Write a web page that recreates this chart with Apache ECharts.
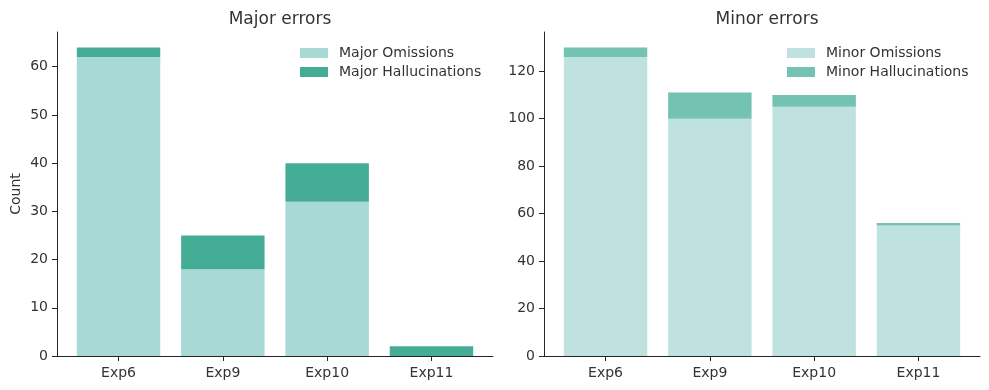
<!DOCTYPE html>
<html><head><meta charset="utf-8">
<script src="https://cdn.jsdelivr.net/npm/echarts@6/dist/echarts.min.js"></script>
<style>html,body{margin:0;padding:0;background:#fff}#c{width:989px;height:390px}</style>
</head><body><div id="c"></div>
<script>
const categories = ['Exp6', 'Exp9', 'Exp10', 'Exp11'];
const majorOmissions = [62, 18, 32, 0];
const majorHallucinations = [2, 7, 8, 2];
const minorOmissions = [126, 100, 105, 55];
const minorHallucinations = [4, 11, 5, 1];
const majorTicks = [0, 10, 20, 30, 40, 50, 60];
const minorTicks = [0, 20, 40, 60, 80, 100, 120];

const txt = '#333333';
const lineC = '#262626';
const font = 'DejaVu Sans';
const FS = 14;
const idx = [0, 1, 2, 3];
const xMin = -0.59, xMax = 3.59;
const axW = 436;
const unit = axW / (xMax - xMin);
const bandLeft = (-0.5 - xMin) * unit;
const bandW = 4 * unit;

// axes grids (0,1) show lines/ticks/labels; bar grids (2,3) hold bars
function axisX(gi) {
  return {
    type: 'value', gridIndex: gi, min: xMin, max: xMax,
    axisLine: { onZero: false, lineStyle: { color: lineC, width: 1 } },
    axisTick: { customValues: idx, length: 5, lineStyle: { color: lineC } },
    axisLabel: { customValues: idx, formatter: v => categories[Math.round(v)], color: txt, fontFamily: font, fontSize: FS, margin: 10 },
    splitLine: { show: false }
  };
}
function axisY(gi, max, ticks, name) {
  return {
    type: 'value', gridIndex: gi, min: 0, max: max,
    name: name, nameLocation: 'middle', nameGap: 34,
    nameTextStyle: { color: txt, fontFamily: font, fontSize: FS },
    axisLine: { show: true, onZero: false, lineStyle: { color: lineC, width: 1 } },
    axisTick: { show: true, customValues: ticks, length: 5, lineStyle: { color: lineC } },
    axisLabel: { customValues: ticks, color: txt, fontFamily: font, fontSize: FS, margin: 9 },
    splitLine: { show: false }
  };
}
function barX(gi) {
  return { type: 'category', gridIndex: gi, data: categories, show: false };
}
function barY(gi, max) {
  return { type: 'value', gridIndex: gi, min: 0, max: max, show: false, splitLine: { show: false } };
}
function bar(name, data, gi, stack, color) {
  return { type: 'bar', name: name, xAxisIndex: gi, yAxisIndex: gi, stack: stack,
    data: data, barWidth: '80%', itemStyle: { color: color }, emphasis: { disabled: true } };
}
const legendText = { color: txt, fontFamily: font, fontSize: FS, padding: [0, 0, 0, 6] };

const chart = echarts.init(document.getElementById('c'), null, { renderer: 'canvas' });
chart.setOption({
  animation: false,
  backgroundColor: '#fff',
  title: [
    { text: 'Major errors', left: 275, top: 6, textAlign: 'center', textStyle: { color: txt, fontFamily: font, fontSize: 17, fontWeight: 'normal' } },
    { text: 'Minor errors', left: 762, top: 6, textAlign: 'center', textStyle: { color: txt, fontFamily: font, fontSize: 17, fontWeight: 'normal' } }
  ],
  legend: [
    { data: ['Major Omissions', 'Major Hallucinations'], orient: 'vertical', left: 300, top: 46, padding: 0, itemWidth: 28, itemHeight: 10, itemGap: 5,
      icon: 'rect', textStyle: legendText },
    { data: ['Minor Omissions', 'Minor Hallucinations'], orient: 'vertical', left: 787, top: 46, padding: 0, itemWidth: 28, itemHeight: 10, itemGap: 5,
      icon: 'rect', textStyle: legendText }
  ],
  grid: [
    { left: 57, top: 32, width: axW, height: 324 },
    { left: 544, top: 32, width: axW, height: 324 },
    { left: 57 + bandLeft, top: 32, width: bandW, height: 324 },
    { left: 544 + bandLeft, top: 32, width: bandW, height: 324 }
  ],
  xAxis: [axisX(0), axisX(1), barX(2), barX(3)],
  yAxis: [axisY(0, 67.2, majorTicks, 'Count'), axisY(1, 136.5, minorTicks, ''), barY(2, 67.2), barY(3, 136.5)],
  series: [
    bar('Major Omissions', majorOmissions, 2, 'maj', '#a8d9d5'),
    bar('Major Hallucinations', majorHallucinations, 2, 'maj', '#45ad96'),
    bar('Minor Omissions', minorOmissions, 3, 'min', '#bfe2e0'),
    bar('Minor Hallucinations', minorHallucinations, 3, 'min', '#74c2b1')
  ]
});
</script></body></html>
